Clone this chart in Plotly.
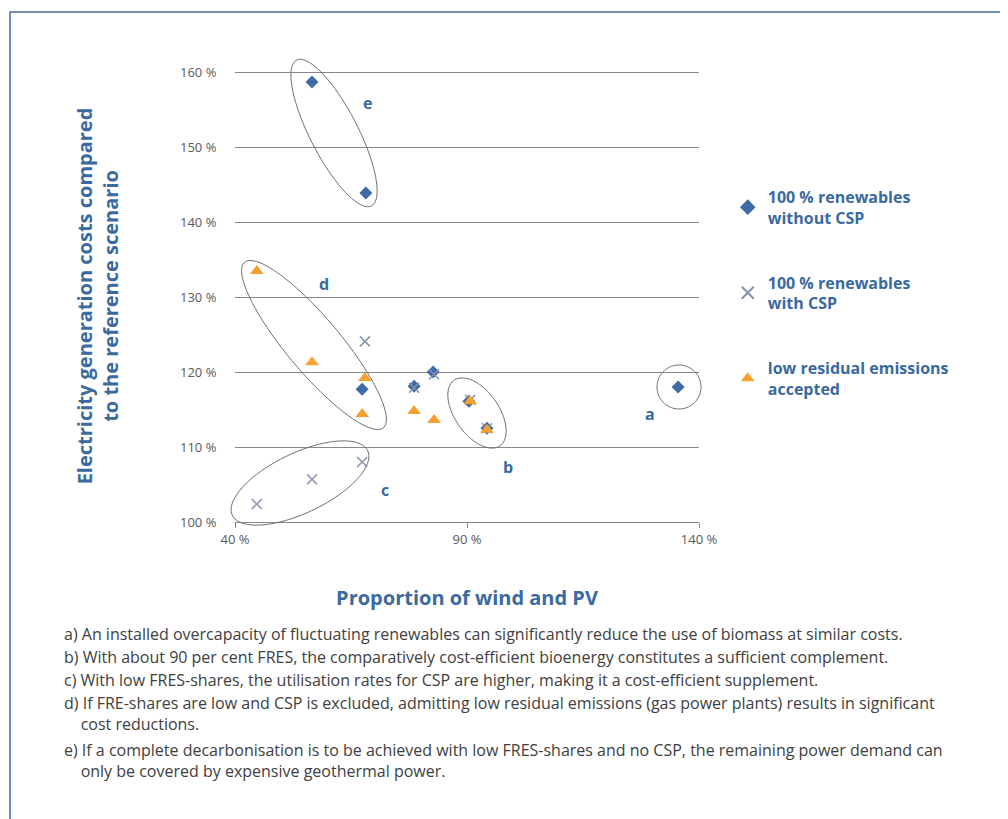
import numpy as np
import plotly.graph_objects as go

blue_x = [56.6, 68.2, 67.4, 78.6, 82.7, 90.4, 94.3, 135.5]
blue_y = [158.7, 143.9, 117.7, 118.1, 120.0, 116.1, 112.5, 118.0]
gray_x = [44.7, 56.6, 67.4, 68.0, 78.6, 82.9, 90.7, 94.3]
gray_y = [102.4, 105.7, 108.0, 124.1, 117.9, 119.7, 116.3, 112.5]
orange_x = [44.7, 56.6, 68.0, 67.4, 78.6, 82.9, 90.7, 94.3]
orange_y = [133.5, 121.3, 119.2, 114.4, 114.8, 113.6, 116.1, 112.3]
names = ["100 % renewables<br>without CSP", "100 % renewables<br>with CSP", "low residual emissions<br>accepted"]
notes = [
    "a) An installed overcapacity of fluctuating renewables can significantly reduce the use of biomass at similar costs.",
    "b) With about 90 per cent FRES, the comparatively cost-efficient bioenergy constitutes a sufficient complement.",
    "c) With low FRES-shares, the utilisation rates for CSP are higher, making it a cost-efficient supplement.",
    "d) If FRE-shares are low and CSP is excluded, admitting low residual emissions (gas power plants) results in significant<br>    cost reductions.",
    "e) If a complete decarbonisation is to be achieved with low FRES-shares and no CSP, the remaining power demand can<br>    only be covered by expensive geothermal power.",
]

BLUE = "#3a6aa0"
fig = go.Figure()
fig.add_trace(go.Scatter(x=blue_x, y=blue_y, mode="markers", name=names[0], legendgroup="a",
                         marker=dict(symbol="diamond", size=10, color="#3e6aa5")))
fig.add_trace(go.Scatter(x=gray_x, y=gray_y, mode="markers", name=names[1], legendgroup="b",
                         marker=dict(symbol="x-thin", size=10, line=dict(width=1.5, color="#8890b0"), color="#8890b0")))
fig.add_trace(go.Scatter(x=orange_x, y=orange_y, mode="markers", name=names[2], legendgroup="c",
                         marker=dict(symbol="triangle-up", size=12, color="#f5a030")))

def px2p(px, py):
    return (px - 235) / 464, (522 - py) / 452

def ellipse(cx, cy, a, b, ang):
    t = np.linspace(0, 2 * np.pi, 80)
    th = np.radians(ang)
    xs = cx + a * np.cos(t) * np.cos(th) - b * np.sin(t) * np.sin(th)
    ys = cy + a * np.cos(t) * np.sin(th) + b * np.sin(t) * np.cos(th)
    pts = [px2p(x, y) for x, y in zip(xs, ys)]
    return "M " + " L ".join(f"{x:.4f},{y:.4f}" for x, y in pts) + " Z"

for cx, cy, a, b, ang in [(334, 133, 82, 24, 62.8), (314, 345, 108, 27, 50), (300, 483, 75, 30, -25.5),
                          (477, 413, 40, 22, 55), (679, 387, 22, 22, 0)]:
    fig.add_shape(type="path", xref="paper", yref="paper", path=ellipse(cx, cy, a, b, ang),
                  line=dict(color="#707070", width=1))

for txt, px, py in [("e", 367, 103), ("d", 324, 284), ("c", 385, 490), ("b", 508, 467), ("a", 650, 414)]:
    x, y = px2p(px, py)
    fig.add_annotation(xref="paper", yref="paper", x=x, y=y, text=f"<b>{txt}</b>", showarrow=False,
                       xanchor="center", yanchor="middle", font=dict(size=16, color=BLUE))

note_y = [632, 655, 678, 701, 748]
for n, py in zip(notes, note_y):
    x, y = px2p(62, py - 11)
    fig.add_annotation(xref="paper", yref="paper", x=x, y=y, xanchor="left", yanchor="top", align="left",
                       text=n, showarrow=False, font=dict(size=16, color="#404040"))

x0, y1 = px2p(10, 12)
fig.add_shape(type="rect", xref="paper", yref="paper", x0=x0, x1=2.0, y0=-0.8, y1=y1,
              line=dict(color="#4a6a98", width=1.5))

fig.update_layout(
    width=1008, height=819, plot_bgcolor="white", paper_bgcolor="white",
    margin=dict(l=227, r=317, t=62, b=305),
    font=dict(family="Open Sans, sans-serif", color="#595959"),
    legend=dict(x=1.062, y=0.757, yanchor="top", font=dict(size=16, color=BLUE, weight="bold"),
                tracegroupgap=41, itemsizing="constant", itemwidth=30),
    xaxis=dict(range=[40, 140], tickvals=[40, 90, 140], ticktext=["40 %", "90 %", "140 %"], showgrid=False,
               zeroline=False, showline=True, linecolor="#888", ticks="outside", ticklen=5, tickcolor="#888",
               tickfont=dict(size=13), title=dict(text="<b>Proportion of wind and PV</b>", font=dict(size=20, color=BLUE), standoff=44)),
    yaxis=dict(range=[100, 160.3], tickvals=[100, 110, 120, 130, 140, 150, 160],
               ticktext=[f"{v} %" for v in range(100, 161, 10)], showgrid=True, gridcolor="#888", zeroline=False,
               tickfont=dict(size=13), ticklen=15, ticks="outside", tickcolor="white",
               title=dict(text="<b>Electricity generation costs compared<br>to the reference scenario</b>", font=dict(size=20, color=BLUE), standoff=55)),
)
fig.write_html("out.html")
